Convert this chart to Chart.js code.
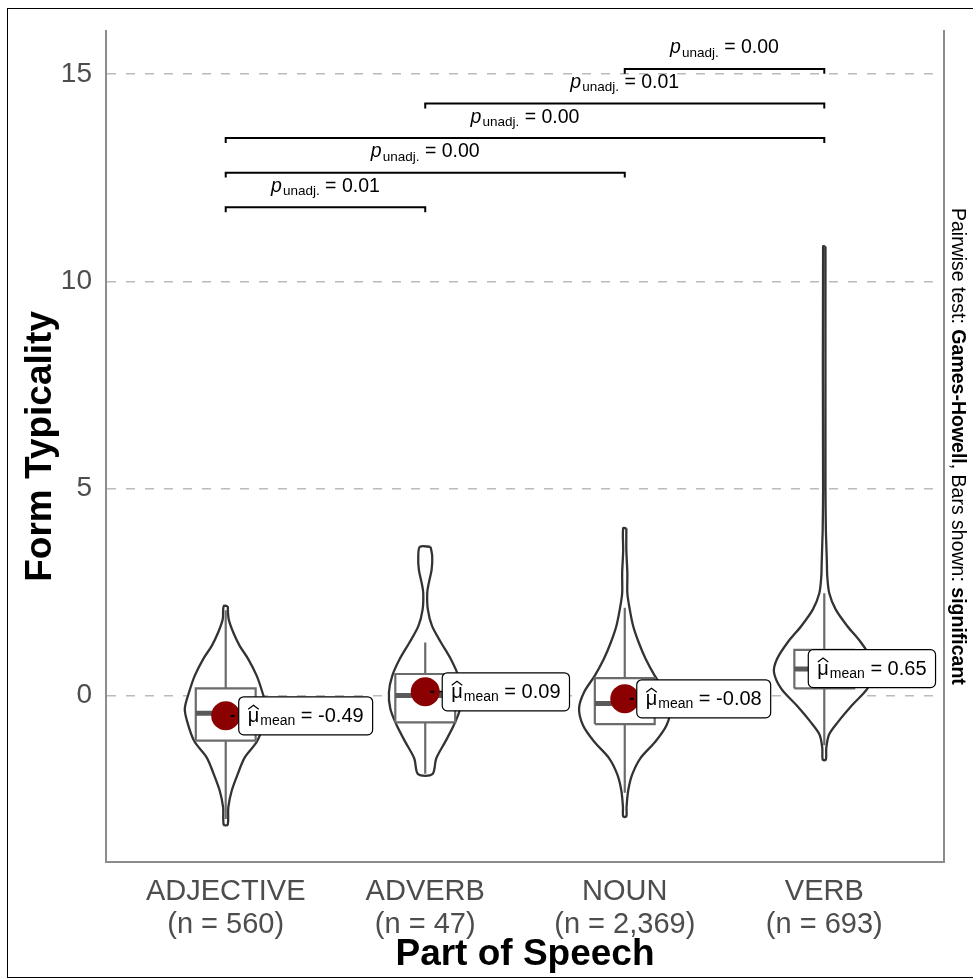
<!DOCTYPE html>
<html>
<head>
<meta charset="utf-8">
<title>Form Typicality by Part of Speech</title>
<script src="https://cdn.jsdelivr.net/npm/chart.js@4.4.1/dist/chart.umd.min.js"></script>
<style>
  html, body { margin: 0; padding: 0; background: #fff; overflow: hidden; }
  #wrap { position: relative; width: 973px; height: 979px; }
  #frame { position: absolute; left: 7px; top: 8px; width: 990px; height: 970px; border: 1px solid #000; box-sizing: border-box; pointer-events: none; }
</style>
</head>
<body>
<div id="wrap">
  <canvas id="chart" width="973" height="979"></canvas>
  <div id="frame"></div>
</div>
<script>
// categories and group sizes
const categories = ['ADJECTIVE', 'ADVERB', 'NOUN', 'VERB'];
const sampleSizes = ['560', '47', '2,369', '693'];

// box plot statistics
const means = [-0.49, 0.09, -0.08, 0.65];
const lowerWhisker = [-2.98, -1.89, -2.35, -1.20];
const quartile1 = [-1.09, -0.65, -0.69, 0.17];
const medians = [-0.43, 0.00, -0.19, 0.64];
const quartile3 = [0.17, 0.52, 0.42, 1.10];
const upperWhisker = [2.06, 1.28, 2.12, 2.47];

// violin outlines: heights and half-widths of the density (category units)
const adjectiveY = [2.16, 1.84, 1.52, 1.2, 0.88, 0.48, 0.09, -0.31, -0.63, -1.1, -1.5, -1.9, -2.3, -2.7, -3.12];
const adjectiveW = [0.010, 0.015, 0.038, 0.070, 0.113, 0.155, 0.183, 0.205, 0.193, 0.158, 0.095, 0.060, 0.030, 0.013, 0.010];
const adverbY = [3.59, 3.36, 3.04, 2.72, 2.48, 2.08, 1.68, 1.28, 0.88, 0.48, 0.08, -0.32, -0.72, -1.12, -1.52, -1.9];
const adverbW = [0.027, 0.035, 0.032, 0.018, 0.010, 0.013, 0.034, 0.079, 0.128, 0.165, 0.182, 0.175, 0.143, 0.100, 0.055, 0.036];
const nounY = [4.04, 3.5, 2.95, 2.47, 2.08, 1.68, 1.28, 0.88, 0.48, 0.08, -0.31, -0.71, -1.11, -1.51, -1.91, -2.3, -2.7, -2.92];
const nounW = [0.008, 0.008, 0.013, 0.013, 0.025, 0.042, 0.070, 0.105, 0.150, 0.204, 0.229, 0.210, 0.154, 0.079, 0.037, 0.017, 0.009, 0.008];
const verbY = [10.84, 5.0, 4.0, 3.67, 3.2, 2.87, 2.47, 2.08, 1.68, 1.28, 0.88, 0.56, 0.16, -0.23, -0.63, -0.94, -1.27, -1.55];
const verbW = [0.006, 0.006, 0.008, 0.010, 0.013, 0.015, 0.025, 0.057, 0.115, 0.184, 0.237, 0.252, 0.215, 0.140, 0.070, 0.024, 0.010, 0.008];

// pairwise comparisons shown as bars
const pairFrom = [1, 1, 1, 2, 3];
const pairTo = [2, 3, 4, 4, 4];
const pairP = ['0.01', '0.00', '0.00', '0.01', '0.00'];

const yTicks = [0, 5, 10, 15];

// layout / style
const FONT = '"Liberation Sans", Arial, Helvetica, sans-serif';
const BOX_HALF = 0.15;
const BRACKET_START = 11.79;
const BRACKET_STEP = 0.835;
const BRACKET_DROP = 0.12;
const labelNudge = [13, 17, 12, -16];

const violinY = [adjectiveY, adverbY, nounY, verbY];
const violinW = [adjectiveW, adverbW, nounW, verbW];

// outline of one violin: down the right side, back up the left side
function violinPoints(i) {
    const c = i + 1;
    const right = violinY[i].map((y, k) => ({ x: c + violinW[i][k], y: y }));
    const left = violinY[i].map((y, k) => ({ x: c - violinW[i][k], y: y })).reverse();
    return right.concat(left, [right[0]]);
}

const lineBase = { type: 'line', pointRadius: 0, pointHoverRadius: 0, fill: false, tension: 0 };
const datasets = [];

// mean points (top-most)
datasets.push({
    type: 'scatter',
    data: means.map((m, i) => ({ x: i + 1, y: m })),
    pointRadius: 14.5,
    pointHoverRadius: 14.5,
    pointBorderWidth: 0,
    backgroundColor: '#8B0000',
    order: 0
});

// significance bars
pairFrom.forEach((a, k) => {
    const h = BRACKET_START + k * BRACKET_STEP;
    const b = pairTo[k];
    datasets.push(Object.assign({}, lineBase, {
        data: [{ x: a, y: h - BRACKET_DROP }, { x: a, y: h }, { x: b, y: h }, { x: b, y: h - BRACKET_DROP }],
        borderColor: '#000',
        borderWidth: 2,
        order: 1
    }));
});

categories.forEach((cat, i) => {
    const c = i + 1;
    // median
    datasets.push(Object.assign({}, lineBase, {
        data: [{ x: c - BOX_HALF, y: medians[i] }, { x: c + BOX_HALF, y: medians[i] }],
        borderColor: '#5A5A5A',
        borderWidth: 5,
        order: 2
    }));
    // whiskers
    datasets.push(Object.assign({}, lineBase, {
        data: [{ x: c, y: upperWhisker[i] }, { x: c, y: quartile3[i] }, { x: c, y: null },
               { x: c, y: quartile1[i] }, { x: c, y: lowerWhisker[i] }],
        borderColor: '#6B6B6B',
        borderWidth: 2.2,
        spanGaps: false,
        order: 3
    }));
    // box
    datasets.push(Object.assign({}, lineBase, {
        data: [{ x: c - BOX_HALF, y: quartile1[i] }, { x: c + BOX_HALF, y: quartile1[i] },
               { x: c + BOX_HALF, y: quartile3[i] }, { x: c - BOX_HALF, y: quartile3[i] },
               { x: c - BOX_HALF, y: quartile1[i] }],
        borderColor: '#6B6B6B',
        borderWidth: 2.2,
        fill: 'shape',
        backgroundColor: 'rgba(255,255,255,0.85)',
        order: 4
    }));
    // violin
    datasets.push(Object.assign({}, lineBase, {
        data: violinPoints(i),
        borderColor: '#333333',
        borderWidth: 2.3,
        tension: 0.3,
        fill: 'shape',
        backgroundColor: '#ffffff',
        order: 5
    }));
});

// rounded rectangle path
function roundedRect(ctx, x, y, w, h, r) {
    ctx.beginPath();
    ctx.moveTo(x + r, y);
    ctx.arcTo(x + w, y, x + w, y + h, r);
    ctx.arcTo(x + w, y + h, x, y + h, r);
    ctx.arcTo(x, y + h, x, y, r);
    ctx.arcTo(x, y, x + w, y, r);
    ctx.closePath();
}

// label "mu-hat_mean = value" next to a mean point
function drawMeanLabel(ctx, dotX, dotY, value, nudge) {
    const mainFont = '20px ' + FONT;
    const subFont = '14px ' + FONT;
    ctx.save();
    ctx.font = mainFont;
    const muW = ctx.measureText('μ').width;
    const rest = ' = ' + value.toFixed(2);
    const restW = ctx.measureText(rest).width;
    ctx.font = subFont;
    const subW = ctx.measureText('mean').width;
    const padX = 9, h = 38;
    const w = padX * 2 + muW + 1 + subW + restW;
    const left = dotX + nudge, top = dotY - h / 2;

    if (nudge > 0) {
        ctx.strokeStyle = '#000';
        ctx.lineWidth = 2;
        ctx.setLineDash([4, 5]);
        ctx.beginPath();
        ctx.moveTo(dotX + 5, dotY);
        ctx.lineTo(left, dotY);
        ctx.stroke();
        ctx.setLineDash([]);
    }

    roundedRect(ctx, left, top, w, h, 5);
    ctx.fillStyle = '#fff';
    ctx.fill();
    ctx.strokeStyle = '#000';
    ctx.lineWidth = 1.2;
    ctx.stroke();

    let x = left + padX;
    const base = dotY + 6;
    ctx.fillStyle = '#000';
    ctx.textBaseline = 'alphabetic';
    ctx.textAlign = 'left';
    ctx.font = mainFont;
    ctx.fillText('μ', x, base);
    ctx.beginPath();
    ctx.moveTo(x + 0.5, base - 12.5);
    ctx.lineTo(x + muW / 2, base - 16.5);
    ctx.lineTo(x + muW - 0.5, base - 12.5);
    ctx.lineWidth = 1.2;
    ctx.stroke();
    x += muW + 1;
    ctx.font = subFont;
    ctx.fillText('mean', x, base + 3);
    x += subW;
    ctx.font = mainFont;
    ctx.fillText(rest, x, base);
    ctx.restore();
}

// label "p_unadj. = value" centred above a bar
function drawPLabel(ctx, cx, base, p) {
    const italFont = 'italic 19.5px ' + FONT;
    const mainFont = '19.5px ' + FONT;
    const subFont = '13.5px ' + FONT;
    const rest = ' = ' + p;
    ctx.save();
    ctx.font = italFont;
    const pW = ctx.measureText('p').width;
    ctx.font = subFont;
    const subW = ctx.measureText('unadj.').width;
    ctx.font = mainFont;
    const restW = ctx.measureText(rest).width;
    let x = cx - (pW + 1 + subW + restW) / 2;
    ctx.fillStyle = '#000';
    ctx.textBaseline = 'alphabetic';
    ctx.textAlign = 'left';
    ctx.font = italFont;
    ctx.fillText('p', x, base);
    x += pW + 1;
    ctx.font = subFont;
    ctx.fillText('unadj.', x, base + 3.5);
    x += subW;
    ctx.font = mainFont;
    ctx.fillText(rest, x, base);
    ctx.restore();
}

// rotated caption on the right
function drawCaption(ctx, area) {
    const parts = [['Pairwise test: ', false], ['Games-Howell', true], [', Bars shown: ', false], ['significant', true]];
    const size = 19.5;
    ctx.save();
    let total = 0;
    parts.forEach(p => {
        ctx.font = (p[1] ? 'bold ' : '') + size + 'px ' + FONT;
        total += ctx.measureText(p[0]).width;
    });
    const startY = (area.top + area.bottom) / 2 - total / 2;
    ctx.translate(952, startY);
    ctx.rotate(Math.PI / 2);
    ctx.fillStyle = '#000';
    ctx.textBaseline = 'alphabetic';
    ctx.textAlign = 'left';
    let x = 0;
    parts.forEach(p => {
        ctx.font = (p[1] ? 'bold ' : '') + size + 'px ' + FONT;
        ctx.fillText(p[0], x, 0);
        x += ctx.measureText(p[0]).width;
    });
    ctx.restore();
}

const labelsPlugin = {
    id: 'statLabels',
    afterDatasetsDraw(chart) {
        const ctx = chart.ctx;
        const xs = chart.scales.x, ys = chart.scales.y;
        pairFrom.forEach((a, k) => {
            const h = BRACKET_START + k * BRACKET_STEP;
            const cx = xs.getPixelForValue((a + pairTo[k]) / 2);
            drawPLabel(ctx, cx, ys.getPixelForValue(h) - 15.5, pairP[k]);
        });
        means.forEach((m, i) => {
            drawMeanLabel(ctx, xs.getPixelForValue(i + 1), ys.getPixelForValue(m), m, labelNudge[i]);
        });
        drawCaption(ctx, chart.chartArea);
    }
};

Chart.defaults.font.family = FONT;

const chart = new Chart(document.getElementById('chart').getContext('2d'), {
    type: 'scatter',
    data: { datasets: datasets },
    options: {
        responsive: false,
        animation: false,
        devicePixelRatio: 1,
        events: [],
        layout: { padding: { left: 0, top: 22, right: 29, bottom: 0 } },
        plugins: { legend: { display: false }, tooltip: { enabled: false } },
        scales: {
            x: {
                type: 'linear',
                min: 0.4,
                max: 4.6,
                afterBuildTicks: s => { s.ticks = categories.map((c, i) => ({ value: i + 1 })); },
                afterFit: s => { s.height = 117; },
                ticks: {
                    callback: (v, i) => [categories[i], '(n = ' + sampleSizes[i] + ')'],
                    font: { size: 29, lineHeight: 1.14 },
                    color: '#4D4D4D',
                    padding: 5,
                    autoSkip: false,
                    maxRotation: 0
                },
                grid: { display: false },
                border: { display: true, color: '#8C8C8C', width: 2 },
                title: {
                    display: true,
                    text: 'Part of Speech',
                    color: '#000',
                    font: { size: 37, weight: 'bold', lineHeight: 1.2 },
                    padding: { top: 0, bottom: 2 }
                }
            },
            y: {
                type: 'linear',
                min: -4.02,
                max: 16.05,
                afterBuildTicks: s => { s.ticks = yTicks.map(v => ({ value: v })); },
                afterFit: s => { s.width = 106; },
                ticks: { font: { size: 28 }, color: '#4D4D4D', padding: 14 },
                grid: { color: '#BDBAB7', lineWidth: 1.6, drawTicks: false },
                border: { display: true, color: '#8C8C8C', width: 2, dash: [9, 10] },
                title: {
                    display: true,
                    text: 'Form Typicality',
                    color: '#000',
                    font: { size: 37, weight: 'bold', lineHeight: 1.2 },
                    padding: { top: 19, bottom: 0 }
                }
            },
            y2: {
                type: 'linear',
                position: 'right',
                min: -4.02,
                max: 16.05,
                afterFit: s => { s.width = 0; },
                ticks: { display: false },
                grid: { display: false, drawTicks: false },
                border: { display: true, color: '#8C8C8C', width: 2 }
            }
        }
    },
    plugins: [labelsPlugin]
});
</script>
</body>
</html>
